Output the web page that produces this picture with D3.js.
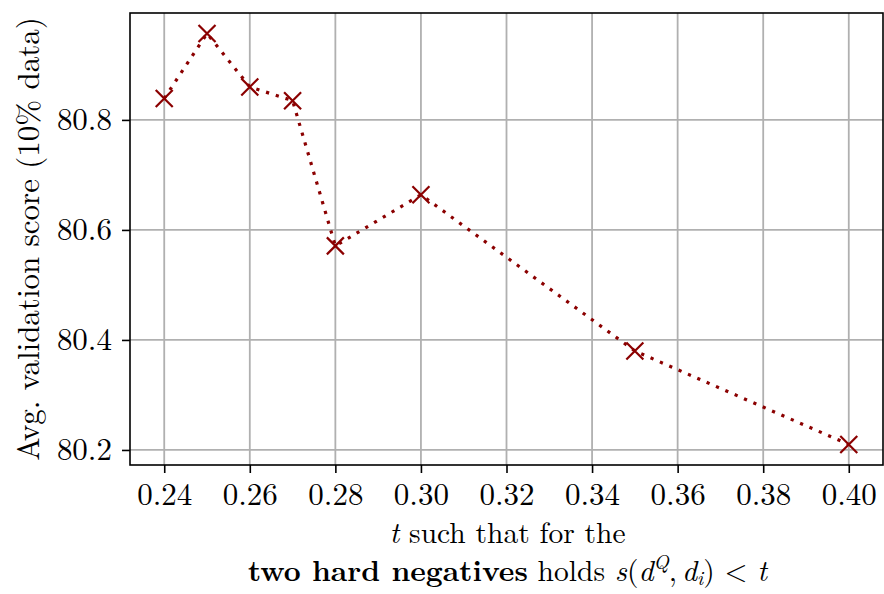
<!DOCTYPE html>
<html>
<head>
<meta charset="utf-8">
<script src="https://cdn.jsdelivr.net/npm/d3@7/dist/d3.min.js"></script>
<style>
  html, body { margin: 0; padding: 0; background: #fff; }
  svg text { font-family: "Latin Modern Roman", "CMU Serif", "DejaVu Serif", serif; fill: #000; }
</style>
</head>
<body>
<svg id="chart" width="884" height="594"></svg>
<script>
// Threshold t and the resulting average validation score
const thresholds = [0.24, 0.25, 0.26, 0.27, 0.28, 0.30, 0.35, 0.40];
const scores     = [80.839, 80.957, 80.860, 80.835, 80.571, 80.664, 80.380, 80.210];
const xTicks = [0.24, 0.26, 0.28, 0.30, 0.32, 0.34, 0.36, 0.38, 0.40];
const yTicks = [80.2, 80.4, 80.6, 80.8];

const FS = 31;
const svg = d3.select("#chart");
const margin = { left: 130, right: 1, top: 13, bottom: 129 };
const W = 884, H = 594;
const plotW = W - margin.left - margin.right;
const plotH = H - margin.top - margin.bottom;

// axis limits padded by 5% of the data span on each side
const xPad = (d3.max(thresholds) - d3.min(thresholds)) * 0.05;
const yPad = (d3.max(scores) - d3.min(scores)) * 0.05;
const x = d3.scaleLinear()
  .domain([d3.min(thresholds) - xPad, d3.max(thresholds) + xPad])
  .range([margin.left, margin.left + plotW]);
const y = d3.scaleLinear()
  .domain([d3.min(scores) - yPad, d3.max(scores) + yPad])
  .range([margin.top + plotH, margin.top]);

const g = svg.append("g");

// grid
g.append("g").selectAll("line").data(xTicks).join("line")
  .attr("x1", d => x(d)).attr("x2", d => x(d))
  .attr("y1", margin.top).attr("y2", margin.top + plotH)
  .attr("stroke", "#b0b0b0").attr("stroke-width", 1.8);
g.append("g").selectAll("line").data(yTicks).join("line")
  .attr("y1", d => y(d)).attr("y2", d => y(d))
  .attr("x1", margin.left).attr("x2", margin.left + plotW)
  .attr("stroke", "#b0b0b0").attr("stroke-width", 1.8);

// axes
const xAxis = g.append("g")
  .attr("transform", `translate(0,${margin.top + plotH})`)
  .call(d3.axisBottom(x).tickValues(xTicks).tickFormat(d3.format(".2f")).tickSize(8).tickPadding(10));
const yAxis = g.append("g")
  .attr("transform", `translate(${margin.left},0)`)
  .call(d3.axisLeft(y).tickValues(yTicks).tickFormat(d3.format(".1f")).tickSize(8).tickPadding(10));
[xAxis, yAxis].forEach(a => {
  a.select(".domain").remove();
  a.selectAll(".tick line").attr("stroke", "#000").attr("stroke-width", 1.6);
  a.selectAll(".tick text").attr("font-size", FS).attr("font-family", null);
});

// frame
g.append("rect")
  .attr("x", margin.left).attr("y", margin.top)
  .attr("width", plotW).attr("height", plotH)
  .attr("fill", "none").attr("stroke", "#000").attr("stroke-width", 1.6);

const color = "#8b0000";
const pts = thresholds.map((t, i) => [t, scores[i]]);

// dotted connecting line
g.append("path")
  .datum(pts)
  .attr("d", d3.line().x(d => x(d[0])).y(d => y(d[1])))
  .attr("fill", "none")
  .attr("stroke", color)
  .attr("stroke-width", 3.2)
  .attr("stroke-dasharray", "3.2,7");

// x markers
const s = 8.5;
g.append("g").selectAll("path").data(pts).join("path")
  .attr("d", d => {
    const cx = x(d[0]), cy = y(d[1]);
    return `M${cx - s},${cy - s}L${cx + s},${cy + s}M${cx - s},${cy + s}L${cx + s},${cy - s}`;
  })
  .attr("stroke", color).attr("stroke-width", 2.2).attr("fill", "none");

// axis titles
svg.append("text")
  .attr("transform", `translate(38.5,${margin.top + plotH / 2}) rotate(-90)`)
  .attr("text-anchor", "middle").attr("font-size", FS)
  .text("Avg. validation score (10% data)");

const TS = 29.5;
const cx = margin.left + plotW / 2 + 1;
const l1 = svg.append("text").attr("x", cx).attr("y", 543)
  .attr("text-anchor", "middle").attr("font-size", TS);
l1.append("tspan").attr("font-style", "italic").text("t");
l1.append("tspan").text(" such that for the");

const l2 = svg.append("text").attr("x", cx).attr("y", 581)
  .attr("text-anchor", "middle").attr("font-size", TS);
l2.append("tspan").attr("font-weight", "bold").text("two hard negatives");
l2.append("tspan").text(" holds ");
l2.append("tspan").attr("font-style", "italic").text("s");
l2.append("tspan").text("(");
l2.append("tspan").attr("font-style", "italic").text("d");
l2.append("tspan").attr("font-style", "italic").attr("font-size", 20).attr("dy", -12).text("Q");
l2.append("tspan").attr("dy", 12).text(",");
l2.append("tspan").attr("font-style", "italic").attr("dx", 5).text("d");
l2.append("tspan").attr("font-style", "italic").attr("font-size", 20).attr("dy", 4).text("i");
l2.append("tspan").attr("dy", -4).text(") < ");
l2.append("tspan").attr("font-style", "italic").text("t");
</script>
</body>
</html>
